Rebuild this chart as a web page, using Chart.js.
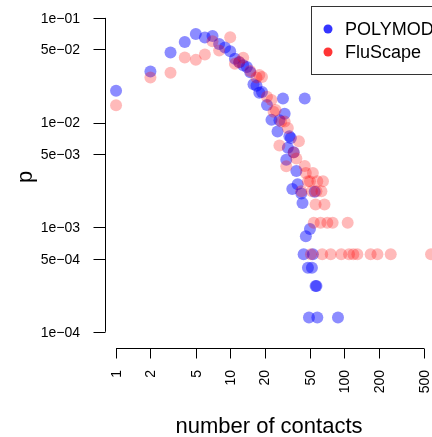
<!DOCTYPE html>
<html>
<head>
<meta charset="utf-8">
<script src="https://cdn.jsdelivr.net/npm/chart.js@4/dist/chart.umd.min.js"></script>
<style>
  html, body { margin: 0; padding: 0; background: #fff; overflow: hidden; }
  #wrap { width: 432px; height: 437px; overflow: hidden; }
</style>
</head>
<body>
<div id="wrap"><canvas id="chart" width="450" height="437"></canvas></div>
<script>
// degree distribution: number of contacts vs proportion of participants
const polymodContacts = [1, 2, 3, 4, 5, 6, 7, 8, 9, 10, 11, 12, 13, 14, 15, 16, 17, 18, 19,
  21, 23, 26, 27, 29, 30, 31, 32, 33, 34, 35, 36, 38, 39, 42, 43, 44, 45, 46, 48, 49, 50,
  52, 53, 55, 56, 57, 58, 88];
const polymodP = [0.0201, 0.0308, 0.0467, 0.0589, 0.070, 0.065, 0.067, 0.0564, 0.052, 0.048,
  0.0406, 0.0377, 0.0352, 0.034, 0.0303, 0.0232, 0.0225, 0.0193, 0.0196,
  0.0147, 0.0106, 0.0082, 0.0105, 0.017, 0.0121, 0.0044, 0.00575, 0.0074, 0.0071, 0.00231,
  0.0052, 0.00344, 0.00257, 0.0021, 0.0017, 0.00055, 0.017, 0.00082, 0.00041, 0.000137,
  0.00096, 0.00041, 0.00055, 0.00218, 0.000274, 0.000274, 0.000137, 0.000137];

const fluscapeContacts = [1, 2, 3, 4, 5, 6, 7, 8, 10, 11, 12, 13, 15, 17, 18, 19, 21, 23, 24,
  25, 27, 28, 30, 31, 32, 36, 38, 40, 42, 45, 46, 48, 50, 51, 52, 53, 54, 56, 57, 58, 62,
  63, 64, 65, 67, 71, 76, 79, 94, 107, 110, 120, 130, 170, 195, 255, 575];
const fluscapeP = [0.0146, 0.0269, 0.0299, 0.0418, 0.0397, 0.0447, 0.0597, 0.0488, 0.0652,
  0.0365, 0.0378, 0.0416, 0.031, 0.027, 0.0285, 0.0272, 0.0176, 0.0164, 0.0127, 0.0132,
  0.00603, 0.0102, 0.0102, 0.00383, 0.00885, 0.00516, 0.00453, 0.00661, 0.0022, 0.00385,
  0.0033, 0.00275, 0.00275, 0.00055, 0.0022, 0.0033, 0.0011, 0.00165, 0.0022, 0.00275,
  0.0011, 0.0022, 0.00055, 0.00275, 0.00165, 0.0011, 0.00055, 0.0011, 0.00055, 0.0011,
  0.00055, 0.00055, 0.00055, 0.00055, 0.00055, 0.00055, 0.00055];

const xTicks = [1, 2, 5, 10, 20, 50, 100, 200, 500];
const yTicks = [1e-1, 5e-2, 1e-2, 5e-3, 1e-3, 5e-4, 1e-4];
const yTickLabels = ['1e\u221201', '5e\u221202', '1e\u221202', '5e\u221203', '1e\u221203', '5e\u221204', '1e\u221204'];
const seriesNames = ['POLYMOD', 'FluScape'];

const FONT = '"Liberation Sans", Arial, sans-serif';

function toPoints(xs, ys) {
  return xs.map((x, i) => ({ x: x, y: ys[i] }));
}

// base-R style detached axes, drawn from the chart's own scales
const rAxes = {
  id: 'rAxes',
  afterDraw(chart) {
    const ctx = chart.ctx;
    const xs = chart.scales.x;
    const ys = chart.scales.y;
    const area = chart.chartArea;
    ctx.save();
    ctx.strokeStyle = '#000';
    ctx.fillStyle = '#000';
    ctx.lineWidth = 1;

    // y axis
    const axX = area.left + 0.5;
    const yTop = ys.getPixelForValue(yTicks[0]);
    const yBot = ys.getPixelForValue(yTicks[yTicks.length - 1]);
    ctx.beginPath();
    ctx.moveTo(axX, yTop);
    ctx.lineTo(axX, yBot);
    yTicks.forEach(v => {
      const y = Math.round(ys.getPixelForValue(v)) + 0.5;
      ctx.moveTo(axX, y);
      ctx.lineTo(axX - 12, y);
    });
    ctx.stroke();
    ctx.font = '14px ' + FONT;
    ctx.textAlign = 'right';
    ctx.textBaseline = 'middle';
    yTicks.forEach((v, i) => {
      ctx.fillText(yTickLabels[i], area.left - 25, ys.getPixelForValue(v) + 1);
    });

    // x axis
    const axY = area.bottom + 0.5;
    const xL = xs.getPixelForValue(xTicks[0]);
    const xR = xs.getPixelForValue(xTicks[xTicks.length - 1]);
    ctx.beginPath();
    ctx.moveTo(xL, axY);
    ctx.lineTo(xR, axY);
    xTicks.forEach(v => {
      const x = Math.round(xs.getPixelForValue(v)) + 0.5;
      ctx.moveTo(x, axY);
      ctx.lineTo(x, axY + 10);
    });
    ctx.stroke();
    xTicks.forEach(v => {
      ctx.save();
      ctx.translate(xs.getPixelForValue(v) + 1, area.bottom + 22);
      ctx.rotate(-Math.PI / 2);
      ctx.textAlign = 'right';
      ctx.textBaseline = 'middle';
      ctx.fillText(String(v), 0, 0);
      ctx.restore();
    });

    // axis titles
    ctx.font = '22px ' + FONT;
    ctx.textAlign = 'center';
    ctx.textBaseline = 'alphabetic';
    ctx.fillText('number of contacts', 269, 433);
    ctx.save();
    ctx.translate(32, (area.top + area.bottom) / 2);
    ctx.rotate(-Math.PI / 2);
    ctx.fillText('p', 0, 0);
    ctx.restore();

    // legend in the top right corner
    const lx = 311, ly = area.top, lw = 140, lh = 68;
    ctx.fillStyle = '#fff';
    ctx.fillRect(lx, ly, lw, lh);
    ctx.strokeStyle = '#333';
    ctx.strokeRect(lx + 0.5, ly + 0.5, lw, lh);
    ctx.font = '18px ' + FONT;
    ctx.textAlign = 'left';
    ctx.textBaseline = 'middle';
    chart.data.datasets.forEach((ds, i) => {
      const cy = ly + 23 + i * 23;
      ctx.fillStyle = ds.legendColor;
      ctx.beginPath();
      ctx.arc(lx + 17, cy, 4.5, 0, Math.PI * 2);
      ctx.fill();
      ctx.fillStyle = '#000';
      ctx.fillText(seriesNames[i], lx + 34, cy + 1);
    });
    ctx.restore();
  }
};

new Chart(document.getElementById('chart'), {
  type: 'scatter',
  data: {
    datasets: [
      {
        label: seriesNames[0],
        data: toPoints(polymodContacts, polymodP),
        backgroundColor: 'rgba(0, 0, 255, 0.45)',
        legendColor: '#3535ff',
        pointRadius: 6,
        borderWidth: 0,
        order: 2
      },
      {
        label: seriesNames[1],
        data: toPoints(fluscapeContacts, fluscapeP),
        backgroundColor: 'rgba(255, 0, 0, 0.27)',
        legendColor: '#ff3535',
        pointRadius: 6,
        borderWidth: 0,
        order: 1
      }
    ]
  },
  options: {
    responsive: false,
    animation: false,
    devicePixelRatio: 1,
    layout: { padding: { left: 105, top: 5, right: 5, bottom: 89 } },
    scales: {
      x: { type: 'logarithmic', display: false, min: 0.80, max: 747 },
      y: { type: 'logarithmic', display: false, min: 7.38e-5, max: 0.1299 }
    },
    plugins: {
      legend: { display: false },
      tooltip: { enabled: false }
    }
  },
  plugins: [rAxes]
});
</script>
</body>
</html>
